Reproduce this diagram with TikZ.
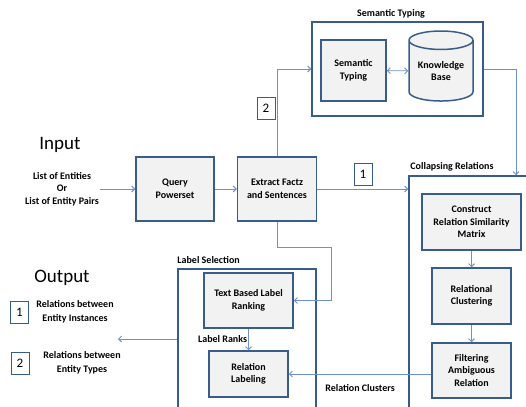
\documentclass[tikz,border=0pt]{standalone}
\usepackage{fontspec}
\setmainfont{Carlito}
\usetikzlibrary{arrows.meta, positioning, shapes.geometric, calc}

\definecolor{boxblue}{RGB}{56,93,138}
\definecolor{linkblue}{RGB}{110,145,200}
\definecolor{boxfill}{RGB}{242,242,242}

\tikzset{
  procbox/.style={draw=boxblue, line width=1.5pt, fill=boxfill, align=center, inner sep=0pt,
    font=\bfseries\fontsize{10}{12.5}\selectfont},
  groupbox/.style={draw=boxblue, line width=1.5pt, inner sep=0pt},
  grouptitle/.style={font=\bfseries\fontsize{10}{12}\selectfont, inner sep=1pt},
  numbox/.style={draw=boxblue, line width=0.8pt, fill=white, minimum width=18pt, minimum height=22pt,
    inner sep=0pt, font=\fontsize{13}{15}\selectfont},
  plaintext/.style={align=center, inner sep=1pt, font=\bfseries\fontsize{10}{12.5}\selectfont},
  flow/.style={-{Straight Barb[length=3pt,width=6pt]}, draw=linkblue, line width=0.9pt}
}

\begin{document}
\begin{tikzpicture}[x=1pt, y=-1pt]
  \clip (0,0) rectangle (526,406);

  % Input
  \node[font=\fontsize{19}{22}\selectfont] (intitle) at (60,145) {Input};
  \node[plaintext] (inlist) at (62,189) {List of Entities\\Or\\List of Entity Pairs};

  % Pipeline steps
  \node[procbox, minimum width=78pt, minimum height=64pt] (qp) at (175,189) {Query\\Powerset};
  \node[procbox, minimum width=79pt, minimum height=64pt] (ef) at (277,189) {Extract Factz\\and Sentences};

  % Semantic typing
  \node[groupbox, minimum width=171pt, minimum height=94pt] (stgroup) at (397.5,69) {};
  \node[grouptitle] (sttitle) at (391,14) {Semantic Typing};
  \node[procbox, minimum width=65pt, minimum height=61pt] (st) at (353.5,70.5) {Semantic\\Typing};
  \node[procbox, cylinder, shape border rotate=90, aspect=0.4,
        minimum width=64pt, minimum height=70pt] (kb) at (441,71) {Knowledge\\Base};

  % Collapsing relations
  \node[groupbox, minimum width=131pt, minimum height=244pt] (crgroup) at (474.5,298) {};
  \node[grouptitle, anchor=south west] (crtitle) at ($(crgroup.north west)+(1,-3)$) {Collapsing Relations};
  \node[procbox, minimum width=99pt, minimum height=56pt] (crsm) at (471.5,222) {Construct\\Relation Similarity\\Matrix};
  \node[procbox, minimum width=79pt, minimum height=56pt] (rc) at (471.5,296) {Relational\\Clustering};
  \node[procbox, minimum width=79pt, minimum height=55pt] (far) at (471.5,370.5) {Filtering\\Ambiguous\\Relation};

  % Label selection
  \node[groupbox, minimum width=138pt, minimum height=151pt] (lsgroup) at (247,344.5) {};
  \node[grouptitle, anchor=south west] (lstitle) at ($(lsgroup.north west)+(-1,-3)$) {Label Selection};
  \node[procbox, minimum width=89pt, minimum height=55pt] (tblr) at (248.5,300.5) {Text Based Label\\Ranking};
  \node[procbox, minimum width=79pt, minimum height=46pt] (rl) at (248.5,374) {Relation\\Labeling};

  % Output
  \node[font=\fontsize{19}{22}\selectfont] (outtitle) at (62,278) {Output};
  \node[numbox] (out1) at (19.5,312) {1};
  \node[plaintext, font=\bfseries\fontsize{10}{14}\selectfont] (out1text) at (75,312) {Relations between\\Entity Instances};
  \node[numbox] (out2) at (20,363.5) {2};
  \node[plaintext, font=\bfseries\fontsize{10}{14}\selectfont] (out2text) at (82,363) {Relations between\\Entity Types};
  \coordinate (outpt) at (118,339);

  % Connectors
  \draw[flow] (inlist.east) -- (qp.west);
  \draw[flow] (qp) -- (ef);
  \draw[flow] (ef.north) |- (stgroup.west);
  \node[numbox] (num2) at (266,108) {2};
  \draw[linkblue, line width=0.9pt, {Straight Barb[length=3pt,width=6pt]}-{Straight Barb[length=3pt,width=6pt]}] (st) -- (kb);
  \draw[flow] (stgroup.east) -| ($(crgroup.north)+(41.5,0)$);
  \draw[flow] (ef.east) -- (ef.east -| crgroup.west);
  \node[numbox] (num1) at (363,174) {1};
  \draw[flow] (ef.south) -- ++(0,26) -| ($(tblr.east)+(38,0)$) -- (tblr.east);
  \draw[flow] (crsm) -- (rc);
  \draw[flow] (rc) -- (far);
  \draw[flow] (tblr) -- node[grouptitle, left] {Label Ranks} (rl);
  \draw[flow] (far.west |- rl.east) -- node[grouptitle, below=9pt] {Relation Clusters} (rl.east);
  \draw[flow] (lsgroup.west |- outpt) -- (outpt);
\end{tikzpicture}
\end{document}
